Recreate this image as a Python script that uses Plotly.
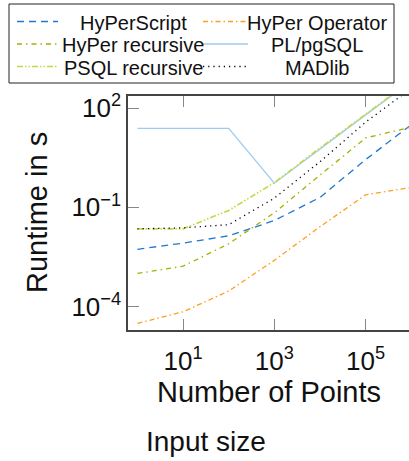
import plotly.graph_objects as go

points = [1, 10, 100, 1000, 1e4, 1e5, 1e6]

hyperscript = [5.4e-3, 8.3e-3, 1.38e-2, 4.0e-2, 0.20, 2.8, 31.6]
hyper_operator = [3.1e-5, 6.9e-5, 2.95e-4, 2.5e-3, 2.6e-2, 0.24, 0.40]
hyper_recursive = [1.0e-3, 1.66e-3, 7.9e-3, 6.9e-2, 0.95, 12.6, 26.9]
plpgsql = [24.5, 24.5, 24.5, 0.54, 6.0, 63, 660]
psql_recursive = [2.24e-2, 2.24e-2, 8.1e-2, 0.56, 6.3, 66, 690]
madlib = [2.24e-2, 2.4e-2, 3.0e-2, 0.19, 2.4, 38, 400]

x_tickvals = [10, 1000, 100000]
x_ticktext = ["10<sup>1</sup>", "10<sup>3</sup>", "10<sup>5</sup>"]
y_tickvals = [1e-4, 1e-1, 1e2]
y_ticktext = ["10<sup>−4</sup>", "10<sup>−1</sup>", "10<sup>2</sup>"]

series = [
    ("HyPerScript", hyperscript, "#1f78d1", "7px,5px", 1.3),
    ("HyPer Operator", hyper_operator, "#ff9e1a", "5px,3px,1.5px,3px", 1.3),
    ("HyPer recursive", hyper_recursive, "#a8b000", "5px,4px,1.5px,4px", 1.3),
    ("PL/pgSQL", plpgsql, "#9ecbef", "solid", 1.3),
    ("PSQL recursive", psql_recursive, "#c5d845", "6px,2px,1.5px,2px,1.5px,2px", 1.6),
    ("MADlib", madlib, "#000000", "1.2px,4px", 1.3),
]

W, H = 409, 461
ML, MR, MT, MB = 128, 0, 96, 131
PW, PH = W - ML - MR, H - MT - MB


def px(xp):
    return (xp - ML) / PW


def py(yp):
    return (H - MB - yp) / PH


font = "Liberation Sans, Arial, Helvetica, sans-serif"

fig = go.Figure()
for name, vals, color, dash, w in series:
    fig.add_trace(go.Scatter(x=points, y=vals, mode="lines", name=name,
                             line=dict(color=color, dash=dash, width=w)))

# manual legend (2 columns x 3 rows, centred labels, framed box)
shapes = [dict(type="rect", xref="paper", yref="paper",
               x0=px(9), x1=px(394), y0=py(83), y1=py(4),
               line=dict(color="#222", width=1), fillcolor="white", layer="above")]
annotations = []
col_sample = [(17, 58), (203, 248)]
col_text = [133, 317]
row_y = [21.5, 44, 66.5]
for i, (name, vals, color, dash, w) in enumerate(series):
    r, c = divmod(i, 2)
    x0, x1 = col_sample[c]
    shapes.append(dict(type="line", xref="paper", yref="paper",
                       x0=px(x0), x1=px(x1), y0=py(row_y[r]), y1=py(row_y[r]),
                       line=dict(color=color, dash=dash, width=w), layer="above"))
    annotations.append(dict(text=name, xref="paper", yref="paper",
                            x=px(col_text[c]), y=py(row_y[r] + 1),
                            xanchor="center", yanchor="middle", showarrow=False,
                            font=dict(size=20, family=font, color="#111")))

annotations += [
    dict(text="Runtime in s", xref="paper", yref="paper", x=px(37), y=0.5,
         xanchor="center", yanchor="middle", textangle=-90, showarrow=False,
         font=dict(size=29, family=font, color="#111")),
    dict(text="Number of Points", xref="paper", yref="paper", x=0.5, y=py(392),
         xanchor="center", yanchor="middle", showarrow=False,
         font=dict(size=29, family=font, color="#111")),
    dict(text="Input size", xref="paper", yref="paper", x=px(206), y=py(441),
         xanchor="center", yanchor="middle", showarrow=False,
         font=dict(size=28, family=font, color="#111")),
]

fig.update_layout(
    width=W, height=H,
    margin=dict(l=ML, r=MR, t=MT, b=MB),
    paper_bgcolor="white", plot_bgcolor="white",
    font=dict(family=font, color="#111"),
    showlegend=False,
    xaxis=dict(
        type="log", range=[-0.206, 5.95],
        tickvals=x_tickvals, ticktext=x_ticktext,
        ticks="inside", ticklen=11, tickcolor="#888", tickwidth=1,
        showline=True, linecolor="#444", linewidth=1.5, mirror="ticks",
        showgrid=False, zeroline=False, ticklabelstandoff=7,
        tickfont=dict(size=26, family=font, color="#111"),
    ),
    yaxis=dict(
        type="log", range=[-4.71, 2.37],
        tickvals=y_tickvals, ticktext=y_ticktext,
        ticks="inside", ticklen=11, tickcolor="#888", tickwidth=1,
        showline=True, linecolor="#444", linewidth=1.5, mirror=False,
        showgrid=False, zeroline=False,
        tickfont=dict(size=26, family=font, color="#111"),
    ),
    shapes=shapes,
    annotations=annotations,
)

fig.write_html("out.html", config={"displayModeBar": False},
               post_script="document.body.style.margin='0px';")
